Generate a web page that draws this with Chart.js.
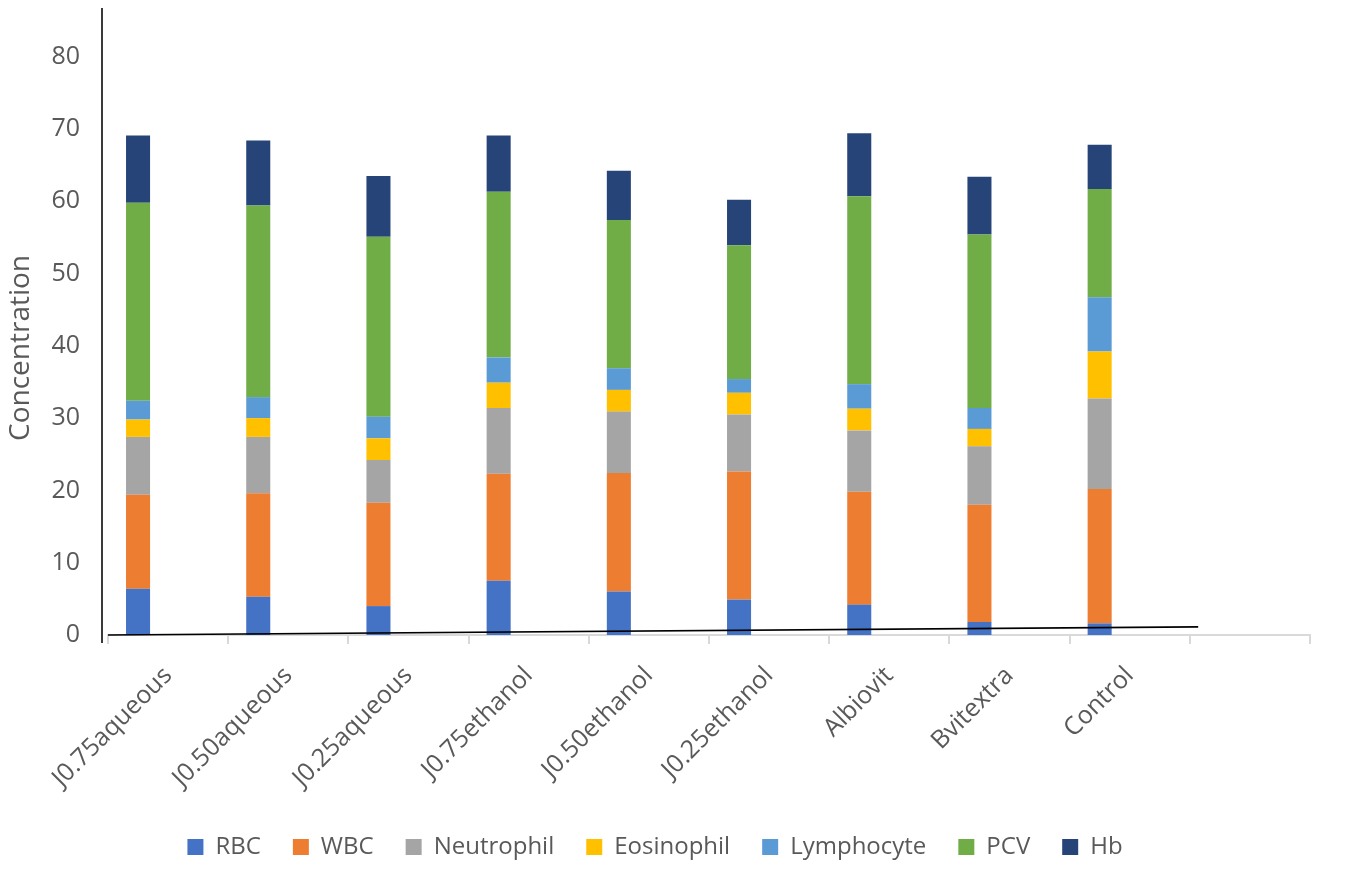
<!DOCTYPE html>
<html>
<head>
<meta charset="utf-8">
<title>Haematology parameters</title>
<script src="https://cdn.jsdelivr.net/npm/chart.js@4.4.1/dist/chart.umd.min.js"></script>
<style>
    html, body { margin: 0; padding: 0; background: #fff; }
    #wrap { width: 1346px; height: 892px; }
</style>
</head>
<body>
<div id="wrap"><canvas id="bloodChart" width="1346" height="892"></canvas></div>
<script>
// Groups on the x axis (last slot is left empty)
const groups = ['J0.75aqueous', 'J0.50aqueous', 'J0.25aqueous', 'J0.75ethanol', 'J0.50ethanol',
                'J0.25ethanol', 'Albiovit', 'Bvitextra', 'Control', ''];

// Stacked series, bottom to top
const rbc        = [6.4, 5.3, 4.0, 7.5, 6.0, 4.9, 4.2, 1.8, 1.6];
const wbc        = [13.0, 14.3, 14.3, 14.8, 16.4, 17.7, 15.6, 16.2, 18.6];
const neutrophil = [8.0, 7.8, 5.9, 9.1, 8.5, 7.9, 8.5, 8.1, 12.5];
const eosinophil = [2.4, 2.6, 3.0, 3.5, 3.0, 3.0, 3.0, 2.4, 6.5];
const lymphocyte = [2.6, 2.9, 3.0, 3.5, 3.0, 1.9, 3.4, 2.9, 7.5];
const pcv        = [27.4, 26.5, 24.9, 22.9, 20.5, 18.5, 26.0, 24.0, 15.0];
const hb         = [9.3, 9.0, 8.4, 7.8, 6.8, 6.3, 8.7, 8.0, 6.1];

// Straight black line running along the base
const baseLine = [{ x: -0.5, y: 0.0 }, { x: 8.57, y: 1.12 }];

const yTicks = [0, 10, 20, 30, 40, 50, 60, 70, 80];

const textGray = '#595959';
const font = 'Open Sans';

const series = [
    { label: 'RBC', data: rbc, color: '#4472C4' },
    { label: 'WBC', data: wbc, color: '#ED7D31' },
    { label: 'Neutrophil', data: neutrophil, color: '#A5A5A5' },
    { label: 'Eosinophil', data: eosinophil, color: '#FFC000' },
    { label: 'Lymphocyte', data: lymphocyte, color: '#5B9BD5' },
    { label: 'PCV', data: pcv, color: '#70AD47' },
    { label: 'Hb', data: hb, color: '#264478' }
];

// Vertical axis line sits a few pixels left of the plot, plus the rotated title
const sideAxis = {
    id: 'sideAxis',
    afterDraw(chart) {
        const { ctx, chartArea } = chart;
        ctx.save();
        ctx.strokeStyle = '#3a3a3a';
        ctx.lineWidth = 2;
        ctx.beginPath();
        ctx.moveTo(chartArea.left - 6, chartArea.top + 2);
        ctx.lineTo(chartArea.left - 6, chartArea.bottom + 8);
        ctx.stroke();

        ctx.translate(21, 348);
        ctx.rotate(-Math.PI / 2);
        ctx.fillStyle = textGray;
        ctx.font = `28px "${font}"`;
        ctx.textAlign = 'center';
        ctx.textBaseline = 'middle';
        ctx.fillText('Concentration', 0, 0);
        ctx.restore();
    }
};

const datasets = series.map(s => ({
    type: 'bar',
    label: s.label,
    data: s.data,
    backgroundColor: s.color,
    borderWidth: 0,
    barPercentage: 0.4,
    categoryPercentage: 1.0,
    order: 1
}));

datasets.push({
    type: 'line',
    label: 'base',
    data: baseLine,
    xAxisID: 'x2',
    yAxisID: 'y',
    borderColor: '#000',
    borderWidth: 1.6,
    pointRadius: 0,
    fill: false,
    clip: false,
    order: 0
});

new Chart(document.getElementById('bloodChart'), {
    data: { labels: groups, datasets },
    options: {
        responsive: false,
        animation: false,
        layout: { padding: { left: 0, right: 36, top: 6, bottom: 23 } },
        plugins: {
            legend: {
                position: 'bottom',
                labels: {
                    color: textGray,
                    boxWidth: 16,
                    boxHeight: 16,
                    padding: 32,
                    font: { family: font, size: 24 },
                    filter: item => item.datasetIndex < series.length
                }
            },
            tooltip: { enabled: false }
        },
        scales: {
            x: {
                stacked: true,
                grid: {
                    drawOnChartArea: false,
                    drawTicks: true,
                    tickLength: 9,
                    color: '#d9d9d9',
                    lineWidth: 2
                },
                border: { color: '#d9d9d9', width: 2 },
                ticks: {
                    color: textGray,
                    font: { family: font, size: 25 },
                    minRotation: 45,
                    maxRotation: 45,
                    autoSkip: false,
                    padding: 17
                },
                afterFit: scale => { scale.height = 168; }
            },
            x2: {
                type: 'linear',
                display: false,
                min: -0.5,
                max: 9.5
            },
            y: {
                stacked: true,
                min: 0,
                max: 87,
                grid: { display: false, drawTicks: false },
                border: { display: false },
                ticks: {
                    stepSize: 10,
                    color: textGray,
                    padding: 28,
                    font: { family: font, size: 25 }
                },
                afterBuildTicks: scale => {
                    scale.ticks = yTicks.map(v => ({ value: v }));
                },
                afterFit: scale => {
                    scale.width = 108;
                    scale.paddingTop = 0;
                    scale.paddingBottom = 0;
                }
            }
        }
    },
    plugins: [sideAxis]
});
</script>
</body>
</html>
